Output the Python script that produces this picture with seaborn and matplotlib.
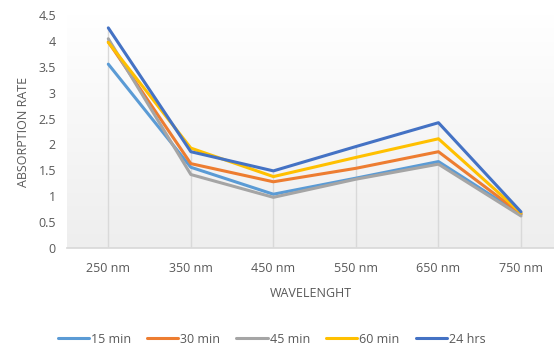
import numpy as np
import pandas as pd
import matplotlib
matplotlib.use("Agg")
import matplotlib.pyplot as plt
import seaborn as sns
from matplotlib.colors import LinearSegmentedColormap

categories = ["250 nm", "350 nm", "450 nm", "550 nm", "650 nm", "750 nm"]
series_names = ["15 min", "30 min", "45 min", "60 min", "24 hrs"]
v15 = [3.55, 1.56, 1.04, 1.35, 1.67, 0.65]
v30 = [3.98, 1.63, 1.28, 1.54, 1.86, 0.66]
v45 = [4.04, 1.42, 0.98, 1.33, 1.62, 0.62]
v60 = [3.97, 1.93, 1.38, 1.75, 2.11, 0.68]
v24 = [4.25, 1.86, 1.49, 1.96, 2.42, 0.70]
colors = ["#5B9BD5", "#ED7D31", "#A5A5A5", "#FFC000", "#4472C4"]

values = [v15, v30, v45, v60, v24]
rows = []
for name, vals in zip(series_names, values):
    for i, (c, v) in enumerate(zip(categories, vals)):
        rows.append({"x": i, "cat": c, "series": name, "value": v})
df = pd.DataFrame(rows)

sns.set_theme(style="white")
plt.rcParams["font.family"] = ["Open Sans", "DejaVu Sans"]

fig = plt.figure(figsize=(5.54, 3.47), dpi=100)
ax = fig.add_axes([0.121, 0.285, 0.879, 0.672])
ax.set_facecolor("none")

# gradient background: white at top, light gray at bottom
grad = np.linspace(0, 1, 256).reshape(-1, 1)
cmap = LinearSegmentedColormap.from_list("g", ["#ffffff", "#eeeeee"])
ax.imshow(grad, aspect="auto", cmap=cmap, extent=[-0.5, 5.4, 0, 4.5],
          origin="upper", zorder=0)

# drop lines
maxv = df.groupby("x")["value"].max()
ax.vlines(maxv.index, 0, maxv.values, color="#d9d9d9", lw=1.0, zorder=1)

sns.lineplot(data=df, x="x", y="value", hue="series", hue_order=series_names,
             palette=colors, linewidth=2.2, ax=ax, zorder=3, legend=True)

ax.set_xlim(-0.5, 5.4)
ax.set_ylim(0, 4.5)
ax.set_xticks(range(len(categories)))
ax.set_xticklabels(categories)
ax.set_yticks(np.arange(0, 4.51, 0.5))
ax.set_yticklabels(["0", "0.5", "1", "1.5", "2", "2.5", "3", "3.5", "4", "4.5"])
ax.tick_params(axis="both", colors="#595959", labelsize=9, length=0)
ax.tick_params(axis="x", pad=10)
ax.tick_params(axis="y", pad=8)
for s in ["top", "right", "left"]:
    ax.spines[s].set_visible(False)
ax.spines["bottom"].set_color("#d9d9d9")
ax.grid(False)

ax.set_xlabel("WAVELENGHT", color="#595959", fontsize=9, labelpad=9)
ax.set_ylabel("ABSORPTION RATE", color="#595959", fontsize=9, labelpad=6)

handles, labels = ax.get_legend_handles_labels()
ax.legend(handles, labels, loc="center", bbox_to_anchor=(0.42, -0.39),
          ncol=5, frameon=False, fontsize=9, handlelength=2.5,
          handletextpad=0.15, columnspacing=1.3, labelcolor="#595959")

fig.savefig("out.png", dpi=100)
